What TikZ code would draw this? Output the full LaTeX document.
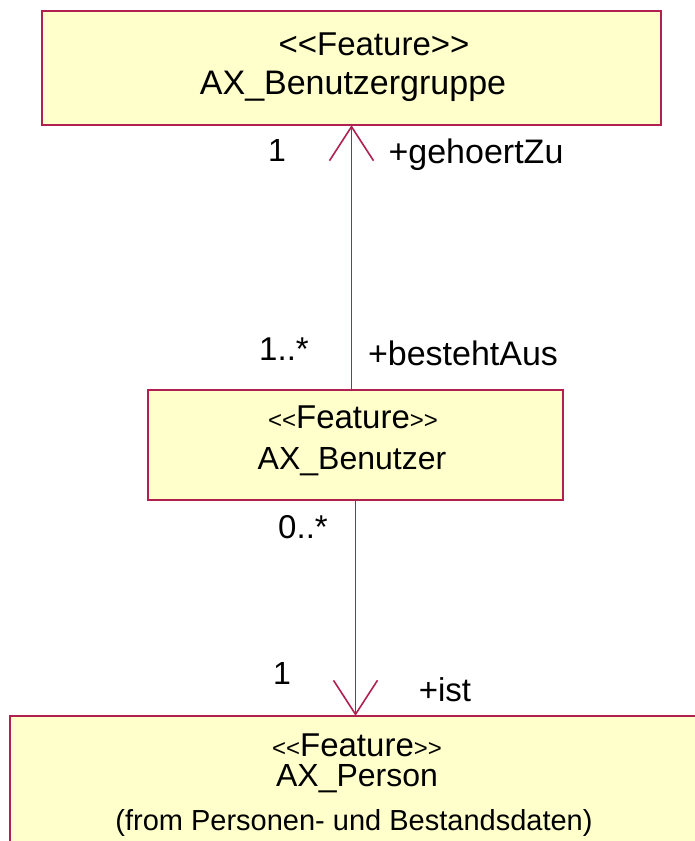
\documentclass[tikz,border=0pt]{standalone}
\usepackage{fontspec}
\setmainfont{Liberation Sans}
\usetikzlibrary{arrows.meta}
\definecolor{umlfill}{RGB}{255,255,204}
\definecolor{umlline}{RGB}{176,32,80}
\newcommand{\fsz}[1]{\fontsize{#1}{#1}\selectfont}
\newcommand{\lt}{{<}}
\newcommand{\gt}{{>}}
\begin{document}
\begin{tikzpicture}[x=1pt,y=-1pt,
  cls/.style={draw=umlline, fill=umlfill, line width=1.3pt, inner sep=0pt},
  txt/.style={inner sep=0pt, anchor=center},
  assoc/.style={draw=umlline, line width=1.6pt, -{Straight Barb[length=34pt,width=44pt,line width=1.6pt]}}]
\useasboundingbox (0,0) rectangle (695,841);
% boxes
\path[cls] (42,11) rectangle (661,125);
\node[minimum width=619pt, minimum height=114pt, inner sep=0pt] (grp) at (351.5,68) {};
\path[cls] (148,390) rectangle (563,500);
\node[minimum width=415pt, minimum height=110pt, inner sep=0pt] (ben) at (355.5,445) {};
\path[cls] (10,716) rectangle (705,860);
\node[minimum width=695pt, minimum height=144pt, inner sep=0pt] (per) at (357.5,788) {};
% texts
\node[txt] (s1) at (374,44) {\fsz{33}\lt\lt Feature\gt\gt};
\node[txt] (n1) at (353,86) {\fsz{34}AX\_Benutzergruppe};
\node[txt] (s2) at (353,417) {\fsz{24}\lt\lt\fsz{33}Feature\fsz{24}\gt\gt};
\node[txt] (n2) at (352,462) {\fsz{32}AX\_Benutzer};
\node[txt] (s3) at (357,745) {\fsz{24}\lt\lt\fsz{33}Feature\fsz{24}\gt\gt};
\node[txt] (n3) at (357,779) {\fsz{32}AX\_Person};
\node[txt] (f3) at (354,823) {\fsz{29}(from Personen- und Bestandsdaten)};
% connectors
\draw[assoc] (ben.north -| grp.south) -- (grp.south);
\draw[assoc] (ben.south) -- (ben.south |- per.north);
% labels
\node[txt] (m1) at (277,150) {\fsz{32}1};
\node[txt] (r1) at (476,155) {\fsz{34}+gehoertZu};
\node[txt] (m2) at (284,349) {\fsz{33}1..*};
\node[txt] (r2) at (463,353) {\fsz{34}+bestehtAus};
\node[txt] (m3) at (303,527) {\fsz{33}0..*};
\node[txt] (m4) at (282,673) {\fsz{32}1};
\node[txt] (r4) at (445,690) {\fsz{33}+ist};
\end{tikzpicture}
\end{document}
